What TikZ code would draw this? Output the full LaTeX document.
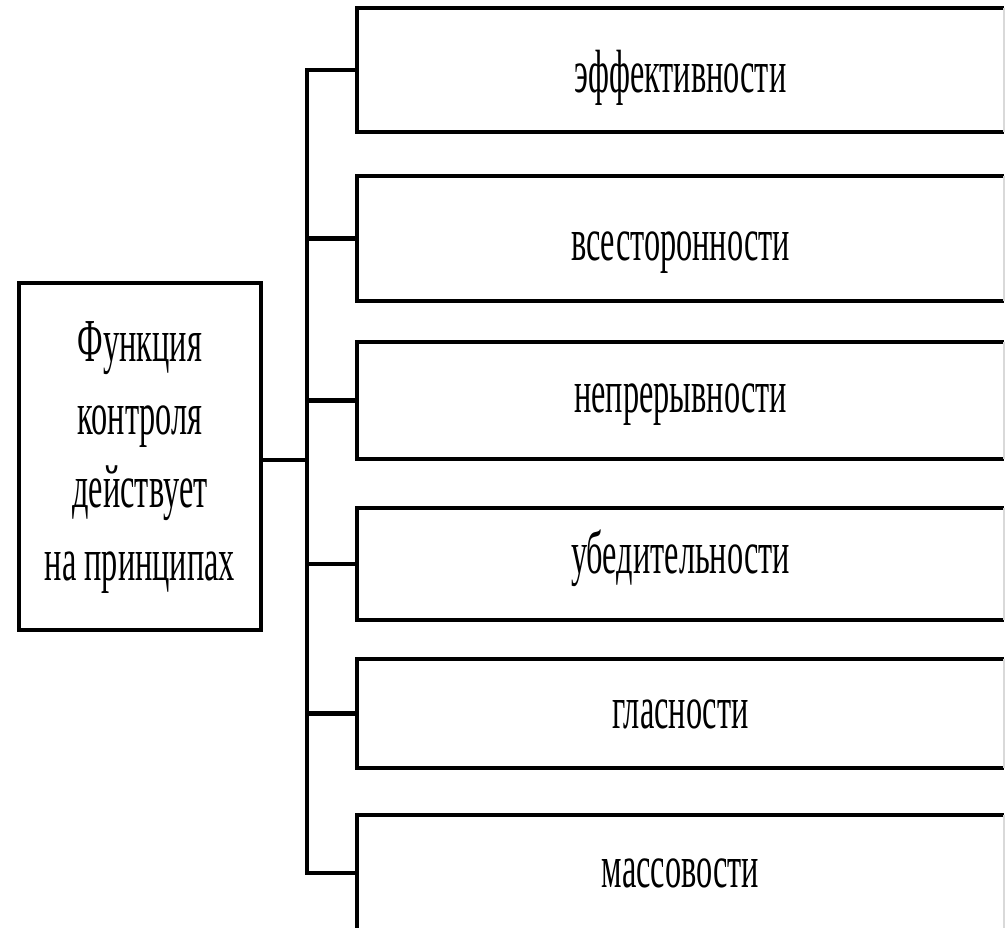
\documentclass[tikz,border=0pt]{standalone}
\usepackage{fontspec}
\setmainfont{Liberation Serif}
\newcommand\sqz[1]{\scalebox{0.53}[1]{#1}}
\begin{document}
\begin{tikzpicture}[x=1pt,y=-1pt,
  pbox/.style={minimum width=647pt, minimum height=#1, inner sep=0pt, outer sep=0pt, font=\fontsize{61}{73}\selectfont},
  basel/.style={text height=#1, text depth=0pt},
  edge/.style={line width=4pt, black},
  faint/.style={line width=1.5pt, black!15},
  conn/.style={line width=4.5pt, black}]
\useasboundingbox (0,0) rectangle (1006,928);
\node[draw, line width=4pt, minimum width=242pt, minimum height=347pt, inner sep=0pt, outer sep=0pt, font=\fontsize{61}{73}\selectfont] (root) at (140,456.5)
  {\sqz{\begin{tabular}{@{}c@{}}Функция\\контроля\\действует\\на принципах\end{tabular}}};
\node[pbox=124pt, basel=46pt] (b1) at (680.5,70) {\sqz{эффективности}};
\node[pbox=125pt, basel=43pt] (b2) at (680.5,238.5) {\sqz{всесторонности}};
\node[pbox=117pt, basel=23pt] (b3) at (680.5,400.5) {\sqz{непрерывности}};
\node[pbox=112pt, basel=18pt] (b4) at (680.5,564) {\sqz{убедительности}};
\node[pbox=109pt, basel=29pt] (b5) at (680.5,713.5) {\sqz{гласности}};
\node[pbox=116pt, basel=28pt] (b6) at (680.5,873) {\sqz{массовости}};
\foreach \b in {b1,b2,b3,b4,b5,b6}{
  \draw[edge] (\b.north east) -- (\b.north west) -- (\b.south west) -- (\b.south east);
  \draw[faint] (\b.north east) -- (\b.south east);
}
\coordinate (j) at (307,460);
\draw[conn] (j -| root.east) -- (j);
\draw[edge, line cap=rect] (j |- b1.west) -- (j |- b6.west);
\foreach \b in {b1,b2,b3,b4,b5,b6}{
  \draw[conn] (j |- \b.west) -- (\b.west);
}
\end{tikzpicture}
\end{document}
